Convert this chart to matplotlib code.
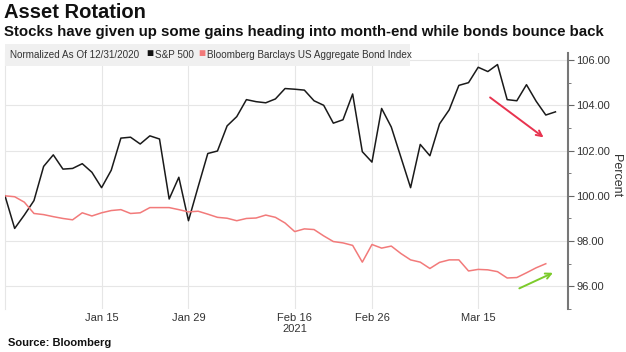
import matplotlib
matplotlib.use("Agg")
import matplotlib.pyplot as plt
import numpy as np
from matplotlib.patches import Rectangle

plt.rcParams['font.family'] = ['Liberation Sans', 'DejaVu Sans']

# trading-day index: 0 = Dec 31 2020
sp500 = [100.0, 98.56, 99.15, 99.79, 101.30, 101.81, 101.18, 101.21, 101.42, 101.04,
         100.36, 101.13, 102.55, 102.59, 102.29, 102.65, 102.51, 99.86, 100.82, 98.90,
         100.40, 101.87, 101.98, 103.09, 103.50, 104.25, 104.16, 104.11, 104.28, 104.74,
         104.71, 104.67, 104.20, 104.00, 103.21, 103.36, 104.50, 101.95, 101.49, 103.86,
         103.04, 101.70, 100.36, 102.27, 101.77, 103.18, 103.80, 104.88, 105.00, 105.68,
         105.49, 105.80, 104.25, 104.20, 104.91, 104.18, 103.57, 103.71]

bonds = [100.0, 99.96, 99.72, 99.22, 99.17, 99.08, 99.00, 98.94, 99.25, 99.11,
         99.25, 99.35, 99.39, 99.22, 99.25, 99.48, 99.48, 99.48, 99.39, 99.29,
         99.32, 99.19, 99.05, 99.01, 98.90, 99.00, 99.02, 99.15, 99.05, 98.80,
         98.42, 98.54, 98.51, 98.23, 97.98, 97.92, 97.81, 97.07, 97.85, 97.69,
         97.78, 97.45, 97.17, 97.07, 96.79, 97.06, 97.17, 97.17, 96.68, 96.75,
         96.73, 96.65, 96.37, 96.39, 96.60, 96.82, 97.00]

tick_pos = [10, 19, 30, 38, 49]
tick_labels = ["Jan 15", "Jan 29", "Feb 16\n2021", "Feb 26", "Mar 15"]
y_ticks = [96, 98, 100, 102, 104, 106]

W, H = 626, 352
fig = plt.figure(figsize=(W / 100, H / 100), dpi=100)
ax = fig.add_axes([5 / W, 1 - 309 / H, (568 - 5) / W, (309 - 53) / H])

ax.plot(range(len(sp500)), sp500, color="#1a1a1a", lw=1.1, zorder=3)
ax.plot(range(len(bonds)), bonds, color="#f27a7a", lw=1.1, zorder=3)

ax.set_xlim(0, 58.3)
ax.set_ylim(95.44, 106.31)

ax.set_xticks(tick_pos)
ax.set_xticklabels(tick_labels, fontsize=8, color="#333333", linespacing=1.1)
ax.set_yticks(y_ticks)
ax.set_yticks(np.arange(95, 107, 2), minor=True)
ax.yaxis.set_major_formatter(matplotlib.ticker.FormatStrFormatter("%.2f"))
ax.yaxis.tick_right()
ax.yaxis.set_label_position("right")
ax.tick_params(axis="y", which="major", direction="out", length=4, color="#666666",
               labelsize=8, labelcolor="#333333", pad=2)
ax.tick_params(axis="y", which="minor", direction="out", length=2, color="#666666")
ax.tick_params(axis="x", length=0, pad=3)
ax.set_ylabel("Percent", fontsize=9, color="#333333", rotation=270, va="center")
ax.yaxis.set_label_coords((616 - 5) / 563, 0.52)

ax.grid(True, color="#e6e6e6", lw=0.8, zorder=0)
for s in ["top", "bottom"]:
    ax.spines[s].set_visible(False)
ax.spines["left"].set_color("#e6e6e6")
ax.spines["left"].set_linewidth(0.8)
ax.spines["right"].set_color("#777777")
ax.spines["right"].set_linewidth(1.5)

# arrows
ax.annotate("", xy=(56.0, 102.51), xytext=(50.0, 104.42),
            arrowprops=dict(arrowstyle="->", color="#e8334f", lw=1.4), zorder=4)
ax.annotate("", xy=(57.0, 96.65), xytext=(53.0, 95.86),
            arrowprops=dict(arrowstyle="->", color="#7ccb2b", lw=1.4), zorder=4)

# titles
fig.text(4 / W, 1 - 3 / H, "Asset Rotation", fontsize=14.5, fontweight="bold",
         color="#111111", va="top", ha="left")
fig.text(4 / W, 1 - 25 / H, "Stocks have given up some gains heading into month-end while bonds bounce back",
         fontsize=10.8, fontweight="bold", color="#111111", va="top", ha="left")

# legend band
fig.patches.append(Rectangle((5 / W, 1 - 66 / H), 405 / W, 22 / H, transform=fig.transFigure,
                             facecolor="#f0f0f0", edgecolor="none", zorder=5))
leg_y = 1 - 54.5 / H
fig.text(10 / W, leg_y, "Normalized As Of 12/31/2020", fontsize=7.1, color="#333333", va="center", zorder=6)
fig.text(146 / W, leg_y, "\u25a0", fontsize=8.5, color="#111111", va="center", zorder=6)
fig.text(155 / W, leg_y, "S&P 500", fontsize=7.1, color="#333333", va="center", zorder=6)
fig.text(198 / W, leg_y, "\u25a0", fontsize=8.5, color="#f27a7a", va="center", zorder=6)
fig.text(207 / W, leg_y, "Bloomberg Barclays US Aggregate Bond Index", fontsize=7.1,
         color="#333333", va="center", zorder=6)

fig.text(8 / W, 1 - 343 / H, "Source: Bloomberg", fontsize=8, fontweight="bold",
         color="#111111", va="center", ha="left")

fig.savefig("out.png", dpi=100)
